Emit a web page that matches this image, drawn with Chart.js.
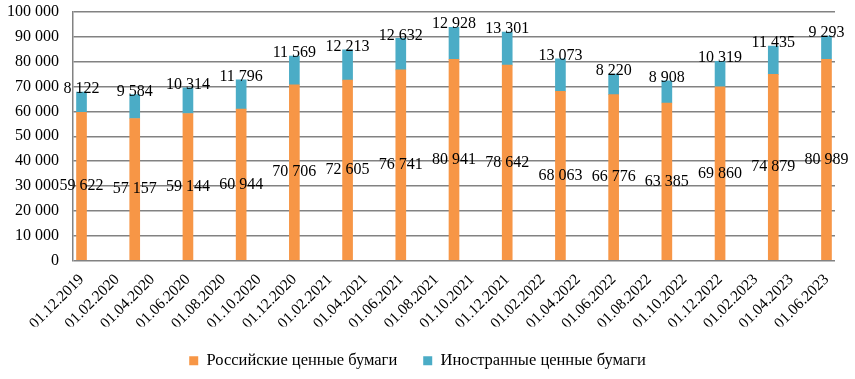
<!DOCTYPE html>
<html>
<head>
<meta charset="utf-8">
<script src="https://cdn.jsdelivr.net/npm/chart.js@4"></script>
<style>
  html, body { margin: 0; padding: 0; background: #fff; }
  #wrap { width: 855px; height: 379px; }
</style>
</head>
<body>
<div id="wrap"><canvas id="chart"></canvas></div>
<script>
// dates shown under the axis (22 labels, spread evenly over the 15 bars)
const dateLabels = [
    '01.12.2019', '01.02.2020', '01.04.2020', '01.06.2020', '01.08.2020', '01.10.2020',
    '01.12.2020', '01.02.2021', '01.04.2021', '01.06.2021', '01.08.2021', '01.10.2021',
    '01.12.2021', '01.02.2022', '01.04.2022', '01.06.2022', '01.08.2022', '01.10.2022',
    '01.12.2022', '01.02.2023', '01.04.2023', '01.06.2023'
];
const russianSec = [59622, 57157, 59144, 60944, 70706, 72605, 76741, 80941, 78642, 68063, 66776, 63385, 69860, 74879, 80989];
const foreignSec = [8122, 9584, 10314, 11796, 11569, 12213, 12632, 12928, 13301, 13073, 8220, 8908, 10319, 11435, 9293];
const yTicks = [0, 10000, 20000, 30000, 40000, 50000, 60000, 70000, 80000, 90000, 100000];

const FONT = "'Liberation Serif', 'Times New Roman', serif";
const gridColor = '#828282';

function fmt(v) {
    return String(v).replace(/\B(?=(\d{3})+(?!\d))/g, ' ');
}

// value labels drawn on the bars
const barLabels = {
    id: 'barLabels',
    afterDatasetsDraw(chart) {
        const ctx = chart.ctx;
        ctx.save();
        ctx.font = '16px ' + FONT;
        ctx.fillStyle = '#000';
        ctx.textAlign = 'center';
        ctx.textBaseline = 'middle';
        chart.data.datasets.forEach((ds, di) => {
            const meta = chart.getDatasetMeta(di);
            meta.data.forEach((bar, i) => {
                const v = ds.data[i].y;
                let y;
                if (di === 0) {
                    y = (bar.y + bar.base) / 2;
                } else {
                    y = bar.y - 3;
                }
                ctx.fillText(fmt(v), bar.x, y);
            });
        });
        ctx.restore();
    }
};

const nBars = russianSec.length;

new Chart(document.getElementById('chart'), {
    type: 'bar',
    data: {
        datasets: [{
            label: 'Российские ценные бумаги',
            data: russianSec.map((v, i) => ({ x: i, y: v })),
            backgroundColor: '#F79646',
            barThickness: 10,
            stack: 's'
        }, {
            label: 'Иностранные ценные бумаги',
            data: foreignSec.map((v, i) => ({ x: i, y: v })),
            backgroundColor: '#4BACC6',
            barThickness: 10,
            stack: 's'
        }]
    },
    options: {
        responsive: true,
        maintainAspectRatio: false,
        animation: false,
        layout: { padding: { top: 12, right: 20, left: 0, bottom: 0 } },
        plugins: {
            legend: {
                position: 'bottom',
                labels: {
                    font: { family: FONT, size: 16.5 },
                    color: '#000',
                    boxWidth: 9,
                    boxHeight: 9,
                    padding: 26
                }
            },
            tooltip: { enabled: false }
        },
        scales: {
            x: {
                type: 'linear',
                stacked: true,
                offset: false,
                min: -0.16,
                max: nBars - 1 + 0.16,
                grid: { display: false },
                border: { display: false },
                afterBuildTicks: (scale) => {
                    scale.ticks = dateLabels.map((_, i) => ({ value: i * (nBars - 1) / (dateLabels.length - 1) }));
                },
                afterFit: (scale) => {
                    scale.height = 66;
                    scale.paddingLeft = 0;
                    scale.paddingRight = 0;
                },
                ticks: {
                    autoSkip: false,
                    maxRotation: 45,
                    minRotation: 45,
                    font: { family: FONT, size: 15.5 },
                    color: '#000',
                    padding: 2,
                    callback: (v, i) => dateLabels[i]
                }
            },
            y: {
                stacked: true,
                min: 0,
                max: 100000,
                afterBuildTicks: (scale) => {
                    scale.ticks = yTicks.map(v => ({ value: v }));
                },
                afterFit: (scale) => {
                    scale.width = 73;
                    scale.paddingTop = 0;
                    scale.paddingBottom = 0;
                },
                grid: { color: gridColor, lineWidth: 1.5, drawTicks: false },
                border: { display: true, color: gridColor, width: 1.5 },
                ticks: {
                    font: { family: FONT, size: 16 },
                    color: '#000',
                    padding: 14,
                    callback: (v) => fmt(v)
                }
            }
        }
    },
    plugins: [barLabels]
});
</script>
</body>
</html>
